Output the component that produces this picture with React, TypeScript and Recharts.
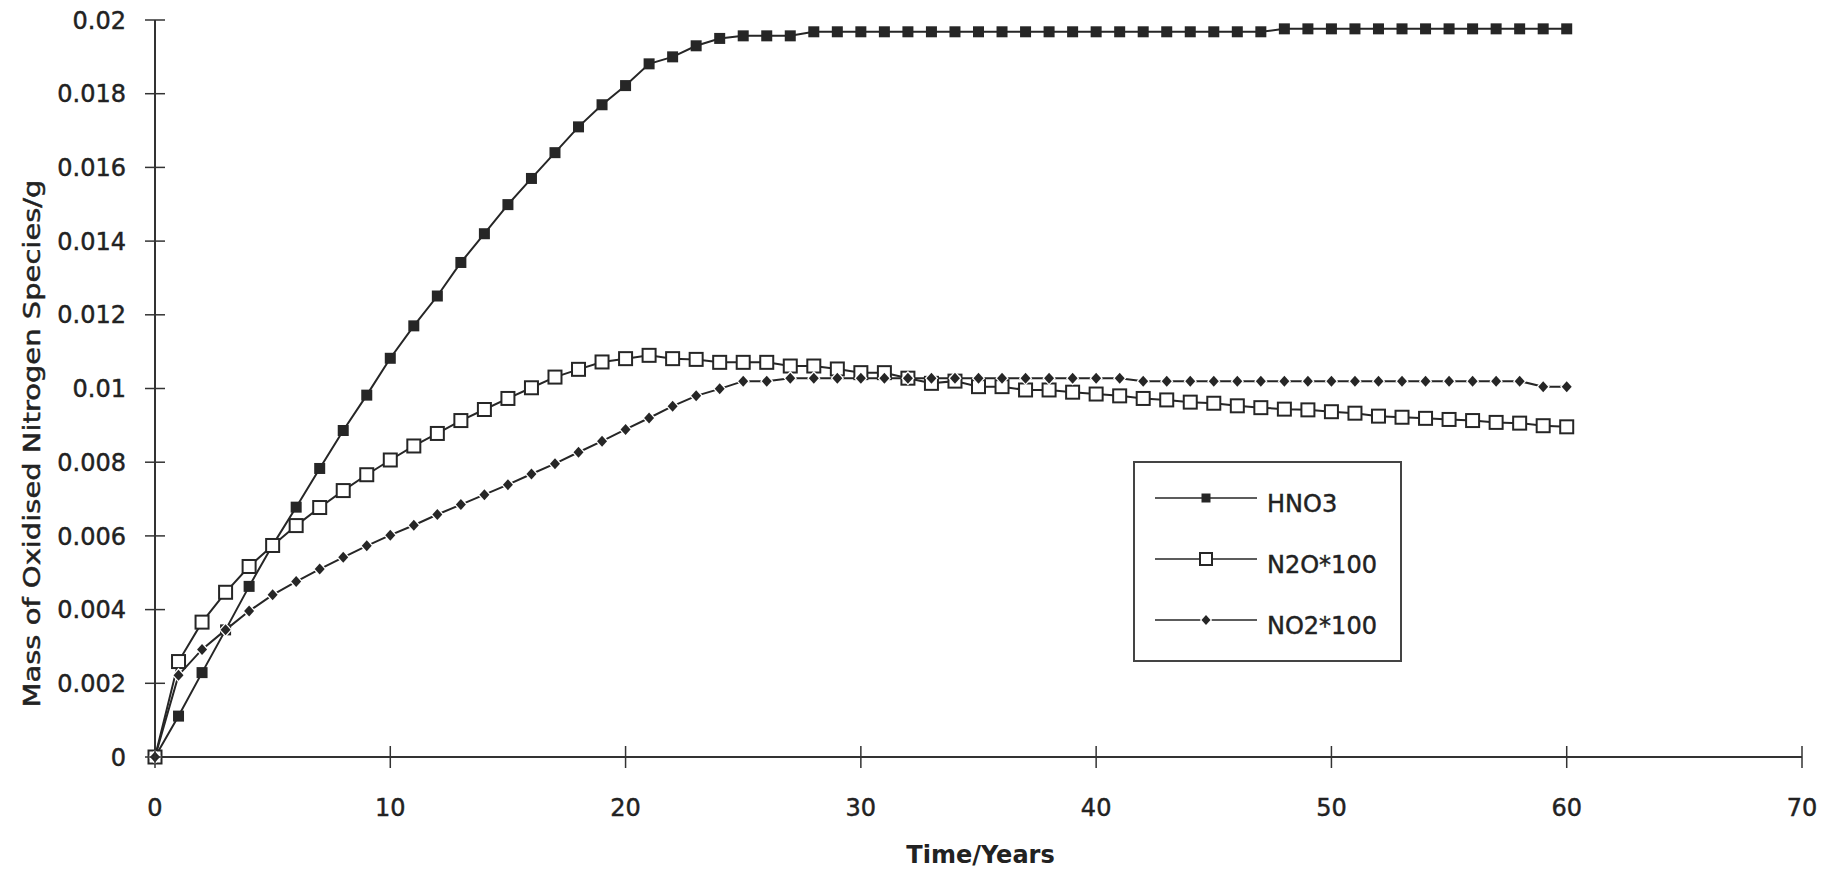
import React from "react";
import { LineChart, Line, XAxis, YAxis, Legend, Label } from "recharts";

// time axis, one point per year
const years = Array.from({ length: 61 }, (_, i) => i);

// values
const hno3 = [
  0, 0.00111, 0.00229, 0.00345, 0.00463, 0.00575, 0.00678, 0.00783, 0.00886,
  0.00982, 0.01082, 0.0117, 0.01251, 0.01342, 0.0142, 0.01499, 0.0157, 0.0164,
  0.0171, 0.0177, 0.01822, 0.01881, 0.019, 0.0193, 0.0195, 0.01957, 0.01957,
  0.01957, 0.01968, 0.01968, 0.01968, 0.01968, 0.01968, 0.01968, 0.01968,
  0.01968, 0.01968, 0.01968, 0.01968, 0.01968, 0.01968, 0.01968, 0.01968,
  0.01968, 0.01968, 0.01968, 0.01968, 0.01968, 0.01976, 0.01976, 0.01976,
  0.01976, 0.01976, 0.01976, 0.01976, 0.01976, 0.01976, 0.01976, 0.01976,
  0.01976, 0.01976,
];

const n2o100 = [
  0, 0.00259, 0.00366, 0.00447, 0.00517, 0.00574, 0.00628, 0.00677, 0.00723,
  0.00766, 0.00806, 0.00844, 0.00878, 0.00913, 0.00943, 0.00973, 0.01002,
  0.01031, 0.01052, 0.01072, 0.01081, 0.0109, 0.01081, 0.01079, 0.01071,
  0.01071, 0.01071, 0.01061, 0.01061, 0.01053, 0.01043, 0.01043, 0.01028,
  0.01014, 0.0102, 0.01005, 0.01005, 0.00996, 0.00996, 0.0099, 0.00985, 0.0098,
  0.00973, 0.00969, 0.00963, 0.0096, 0.00953, 0.00948, 0.00944, 0.00942,
  0.00937, 0.00933, 0.00925, 0.00922, 0.00919, 0.00916, 0.00913, 0.00908,
  0.00906, 0.00899, 0.00896,
];

const no2100 = [
  0, 0.00222, 0.00292, 0.00345, 0.00396, 0.0044, 0.00476, 0.0051, 0.00542,
  0.00573, 0.00602, 0.00629, 0.00658, 0.00685, 0.00712, 0.00739, 0.00768,
  0.00796, 0.00827, 0.00857, 0.00889, 0.0092, 0.00952, 0.0098, 0.00999, 0.0102,
  0.0102, 0.01028, 0.01028, 0.01028, 0.01028, 0.01028, 0.01028, 0.01028,
  0.01028, 0.01028, 0.01028, 0.01028, 0.01028, 0.01028, 0.01028, 0.01028,
  0.0102, 0.0102, 0.0102, 0.0102, 0.0102, 0.0102, 0.0102, 0.0102, 0.0102,
  0.0102, 0.0102, 0.0102, 0.0102, 0.0102, 0.0102, 0.0102, 0.0102, 0.01005,
  0.01005,
];

const xTicks = [0, 10, 20, 30, 40, 50, 60, 70];
const yTicks = [
  0, 0.002, 0.004, 0.006, 0.008, 0.01, 0.012, 0.014, 0.016, 0.018, 0.02,
];

const rows = years.map((year, i) => ({
  year,
  hno3: hno3[i],
  n2o: n2o100[i],
  no2: no2100[i],
}));

const FONT = "'DejaVu Sans', sans-serif";
const INK = "#262626";
// scanned text looks a bit heavier than DejaVu regular
const textInk = { fill: "#222", stroke: "#222", strokeWidth: 0.45 };

type MarkerKind = "filled" | "open" | "diamond";

const Marker = ({ kind, cx, cy, s }: { kind: MarkerKind; cx: number; cy: number; s: number }) => {
  if (kind === "filled") {
    return <rect x={cx - s / 2} y={cy - s / 2} width={s} height={s} fill={INK} />;
  }
  if (kind === "open") {
    return (
      <rect x={cx - s / 2} y={cy - s / 2} width={s} height={s} fill="#fff" stroke={INK} strokeWidth={2} />
    );
  }
  const h = s / 2;
  return (
    <path
      d={`M${cx},${cy - h - 0.5}L${cx + h},${cy}L${cx},${cy + h + 0.5}L${cx - h},${cy}Z`}
      fill={INK}
      stroke="#fff"
      strokeWidth={2.5}
      paintOrder="stroke"
    />
  );
};

const series = [
  { key: "hno3", name: "HNO3", kind: "filled" as MarkerKind, size: 11, legendSize: 9 },
  { key: "n2o", name: "N2O*100", kind: "open" as MarkerKind, size: 13, legendSize: 12 },
  { key: "no2", name: "NO2*100", kind: "diamond" as MarkerKind, size: 10, legendSize: 9 },
];

const fmtY = (v: number) => String(Number(v.toFixed(3)));

const XTick = (props: any) => {
  const { x, y, payload } = props;
  return (
    <g>
      <line x1={x} x2={x} y1={y - 11} y2={y + 11} stroke="#333" strokeWidth={1.5} />
      <text x={x} y={y + 59} textAnchor="middle" fontFamily={FONT} fontSize={24} {...textInk}>
        {payload.value}
      </text>
    </g>
  );
};

const YTick = (props: any) => {
  const { x, y, payload } = props;
  return (
    <g>
      <line x1={x - 10} x2={x + 10} y1={y} y2={y} stroke="#333" strokeWidth={1.5} />
      <text x={x - 29} y={y} dy="0.36em" textAnchor="end" fontFamily={FONT} fontSize={24} {...textInk}>
        {fmtY(payload.value)}
      </text>
    </g>
  );
};

const renderLegend = (props: any) => {
  const { payload } = props;
  const rowY = [37, 98, 159];
  return (
    <svg width={269} height={201}>
      <rect x={1} y={1} width={267} height={199} fill="#fff" stroke="#444" strokeWidth={2} />
      {(payload || []).map((entry: any, i: number) => {
        const s = series.find((d) => d.key === entry.dataKey) || series[i];
        const y = rowY[i];
        return (
          <g key={s.key}>
            <line x1={22} x2={124} y1={y} y2={y} stroke={INK} strokeWidth={1.5} />
            <Marker kind={s.kind} cx={73} cy={y} s={s.legendSize} />
            <text x={134} y={y + 5} dy="0.36em" fontFamily={FONT} fontSize={24} {...textInk}>
              {s.name}
            </text>
          </g>
        );
      })}
    </svg>
  );
};

export default function App() {
  return (
    <div style={{ position: "absolute", left: 0, top: 0, width: 1829, height: 871, background: "#fff" }}>
      <LineChart width={1829} height={871} data={rows} margin={{ top: 20, right: 27, bottom: 34, left: 75 }}>
        <XAxis
          type="number"
          dataKey="year"
          domain={[0, 70]}
          ticks={xTicks}
          interval={0}
          height={80}
          tickSize={0}
          tickMargin={0}
          tickLine={false}
          axisLine={{ stroke: "#333", strokeWidth: 2 }}
          tick={<XTick />}
        >
          <Label
            content={(p: any) => {
              const vb = p.viewBox;
              return (
                <text
                  x={vb.x + vb.width / 2 + 2}
                  y={vb.y + 106}
                  textAnchor="middle"
                  fontFamily={FONT}
                  fontWeight="bold"
                  fontSize={24}
                  fill="#222"
                >
                  Time/Years
                </text>
              );
            }}
          />
        </XAxis>
        <YAxis
          type="number"
          domain={[0, 0.02]}
          ticks={yTicks}
          interval={0}
          width={80}
          tickSize={0}
          tickMargin={0}
          tickLine={false}
          axisLine={{ stroke: "#333", strokeWidth: 2 }}
          tick={<YTick />}
        >
          <Label
            content={(p: any) => {
              const vb = p.viewBox;
              const cx = vb.x - 35;
              const cy = vb.y + vb.height / 2 + 55;
              return (
                <text
                  x={cx}
                  y={cy}
                  textAnchor="middle"
                  transform={`rotate(-90, ${cx}, ${cy})`}
                  fontFamily={FONT}
                  fontSize={23}
                  {...textInk}
                  textLength={528}
                  lengthAdjust="spacingAndGlyphs"
                >
                  Mass of Oxidised Nitrogen Species/g
                </text>
              );
            }}
          />
        </YAxis>
        <Legend
          layout="vertical"
          align="center"
          verticalAlign="middle"
          content={renderLegend}
          wrapperStyle={{ left: 1133, top: 461, width: 269, height: 201 }}
        />
        {series.map((s) => (
          <Line
            key={s.key}
            dataKey={s.key}
            name={s.name}
            type="linear"
            stroke={INK}
            strokeWidth={2}
            isAnimationActive={false}
            activeDot={false}
            dot={(p: any) => <Marker key={`${s.key}-${p.index}`} kind={s.kind} cx={p.cx} cy={p.cy} s={s.size} />}
          />
        ))}
      </LineChart>
    </div>
  );
}
